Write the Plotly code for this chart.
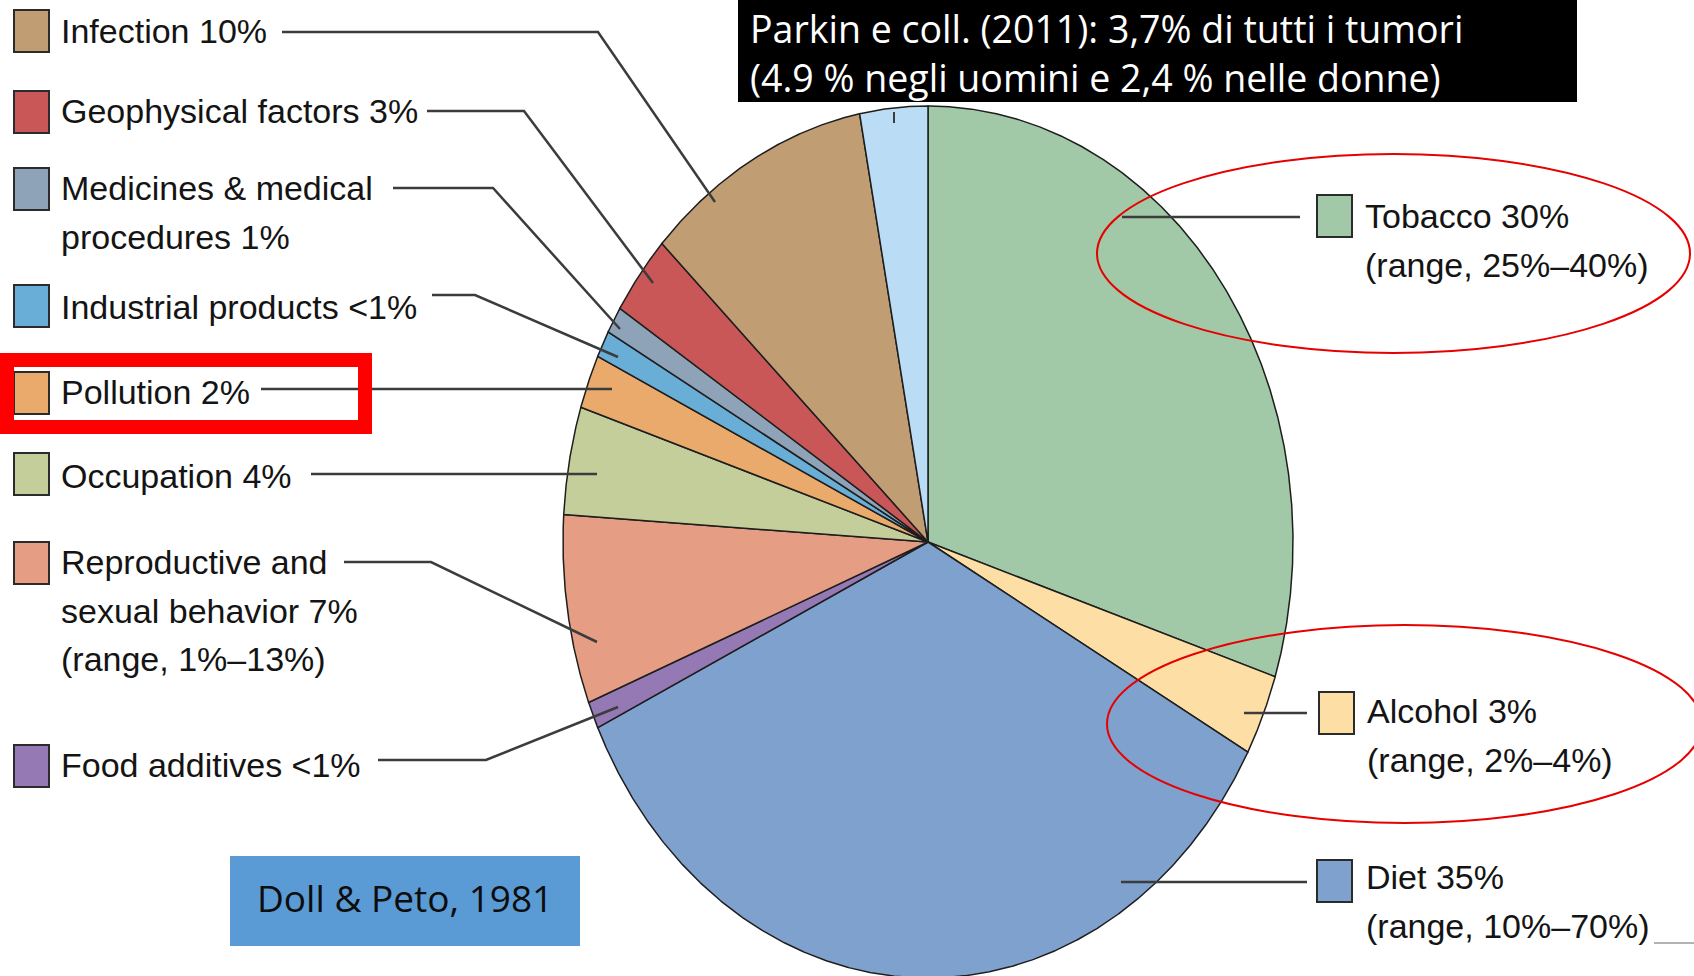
import numpy as np
import plotly.graph_objects as go

# Slices of the pie, clockwise from 12 o'clock.
causes = ["Tobacco", "Alcohol", "Diet", "Food additives",
          "Reproductive and sexual behavior", "Occupation", "Pollution",
          "Industrial products", "Medicines & medical procedures",
          "Geophysical factors", "Infection", "Unknown"]
shares = [30, 3, 35, 1, 7, 4, 2, 1, 1, 3, 10, 3]
colors = ["#A2C9A7", "#FDDFA6", "#7FA1CD", "#9579B4", "#E59E84", "#C3CE9A",
          "#E9AA6B", "#69AED6", "#8EA2B8", "#C95757", "#C19D73", "#BADCF4"]

# Legend text for each slice (lines split on "\n", "" = no label).
label_text = ["Tobacco 30%\n(range, 25%–40%)",
              "Alcohol 3%\n(range, 2%–4%)",
              "Diet 35%\n(range, 10%–70%)",
              "Food additives <1%",
              "Reproductive and\nsexual behavior 7%\n(range, 1%–13%)",
              "Occupation 4%",
              "Pollution 2%",
              "Industrial products <1%",
              "Medicines & medical\nprocedures 1%",
              "Geophysical factors 3%",
              "Infection 10%",
              ""]

box_title = "Parkin e coll. (2011): 3,7% di tutti i tumori\n(4.9 % negli uomini e 2,4 % nelle donne)"
source_note = "Doll & Peto, 1981"

# ---- layout (pixel positions in the 1694 x 976 page) ----
W, H = 1694, 976
CX, CY, RX, RY = 928, 542, 365, 436   # pie centre and radii


def px(x):
    return x / W


def py(y):
    return 1 - y / H


# square top y, text x, first line y, leader path for each labelled slice
label_pos = {
    0: dict(sq=(1317, 195), tx=1363, ty=216, lead=[(1122, 217), (1300, 217)]),
    1: dict(sq=(1319, 692), tx=1365, ty=711, lead=[(1244, 713), (1307, 713)]),
    2: dict(sq=(1317, 860), tx=1364, ty=877, lead=[(1121, 882), (1307, 882)]),
    3: dict(sq=(14, 745), tx=59, ty=765, lead=[(378, 760), (486, 760), (618, 707)]),
    4: dict(sq=(14, 542), tx=59, ty=562, lead=[(344, 562), (431, 562), (597, 642)]),
    5: dict(sq=(14, 453), tx=59, ty=476, lead=[(311, 474), (597, 474)]),
    6: dict(sq=(14, 372), tx=59, ty=392, lead=[(261, 389), (612, 389)]),
    7: dict(sq=(14, 285), tx=59, ty=307, lead=[(432, 295), (475, 295), (618, 357)]),
    8: dict(sq=(14, 168), tx=59, ty=188, lead=[(393, 188), (493, 188), (620, 329)]),
    9: dict(sq=(14, 91), tx=59, ty=111, lead=[(427, 111), (524, 111), (653, 283)]),
    10: dict(sq=(14, 10), tx=59, ty=31, lead=[(282, 32), (598, 32), (715, 202)]),
}
SQ_W, SQ_H, LINE_STEP = 35, 42, 48.5

fig = go.Figure()

# Pie slices drawn on a unit circle; the axis ranges stretch it into the ellipse.
bounds = np.concatenate([[0], np.cumsum(shares)]) / sum(shares) * 2 * np.pi
for i, (a0, a1) in enumerate(zip(bounds[:-1], bounds[1:])):
    t = np.linspace(a0, a1, max(int((a1 - a0) / 0.004), 2))
    fig.add_trace(go.Scatter(
        x=np.concatenate([[0], np.sin(t), [0]]),
        y=np.concatenate([[0], np.cos(t), [0]]),
        mode="lines", fill="toself", fillcolor=colors[i],
        line=dict(color="#1e1e1e", width=1.5),
        name=causes[i], hoverinfo="name", showlegend=False,
    ))

shapes, annotations = [], []
label_font = dict(family="Liberation Sans, Arial, sans-serif", size=34, color="#141414")

for i, pos in label_pos.items():
    x0, y0 = pos["sq"]
    shapes.append(dict(type="rect", xref="paper", yref="paper",
                       x0=px(x0), x1=px(x0 + SQ_W), y0=py(y0), y1=py(y0 + SQ_H),
                       fillcolor=colors[i], line=dict(color="#2b2b2b", width=2)))
    path = "M " + " L ".join(f"{px(x)},{py(y)}" for x, y in pos["lead"])
    shapes.append(dict(type="path", xref="paper", yref="paper", path=path,
                       line=dict(color="#3c3c3c", width=2.5)))
    for k, line in enumerate(label_text[i].split("\n")):
        annotations.append(dict(x=px(pos["tx"]), y=py(pos["ty"] + k * LINE_STEP),
                                xref="paper", yref="paper", text=line,
                                xanchor="left", yanchor="middle", showarrow=False,
                                font=label_font))

# small tick on the light-blue slice and stray line at the bottom right
shapes.append(dict(type="line", xref="paper", yref="paper",
                   x0=px(894), x1=px(894), y0=py(112), y1=py(123),
                   line=dict(color="#3c3c3c", width=2)))
shapes.append(dict(type="line", xref="paper", yref="paper",
                   x0=px(1654), x1=px(1694), y0=py(943), y1=py(943),
                   line=dict(color="#9a9a9a", width=1.5)))

# red highlight marks
shapes.append(dict(type="rect", xref="paper", yref="paper",
                   x0=px(7), x1=px(365), y0=py(360), y1=py(427),
                   line=dict(color="#FF0000", width=14)))
shapes.append(dict(type="circle", xref="paper", yref="paper",
                   x0=px(1097), x1=px(1690), y0=py(154), y1=py(353),
                   line=dict(color="#E60000", width=2)))
shapes.append(dict(type="circle", xref="paper", yref="paper",
                   x0=px(1107), x1=px(1702), y0=py(625), y1=py(823),
                   line=dict(color="#E60000", width=2)))

# black title box
shapes.append(dict(type="rect", xref="paper", yref="paper", layer="below",
                   x0=px(738), x1=px(1577), y0=py(0), y1=py(102),
                   fillcolor="black", line=dict(width=0)))
annotations.append(dict(x=px(748), y=py(1), xref="paper", yref="paper",
                        text=box_title.replace("\n", "<br>"), align="left",
                        xanchor="left", yanchor="top", showarrow=False,
                        font=dict(family="Open Sans, sans-serif", size=37.5, color="white")))

# blue source box
shapes.append(dict(type="rect", xref="paper", yref="paper",
                   x0=px(230), x1=px(580), y0=py(856), y1=py(946),
                   fillcolor="#5B9BD5", line=dict(width=0)))
annotations.append(dict(x=px(405), y=py(897), xref="paper", yref="paper",
                        text=source_note, xanchor="center", yanchor="middle",
                        showarrow=False,
                        font=dict(family="Open Sans, sans-serif", size=37, color="#0d0d0d")))

fig.update_layout(
    width=W, height=H,
    margin=dict(l=0, r=0, t=0, b=0, pad=0),
    paper_bgcolor="white", plot_bgcolor="white",
    xaxis=dict(range=[(0 - CX) / RX, (W - CX) / RX], visible=False, fixedrange=True),
    yaxis=dict(range=[(CY - H) / RY, CY / RY], visible=False, fixedrange=True),
    shapes=shapes,
    annotations=annotations,
    showlegend=False,
)

fig.write_html("out.html", config={"displayModeBar": False},
               post_script="document.body.style.margin='0';document.body.style.overflow='hidden';")
